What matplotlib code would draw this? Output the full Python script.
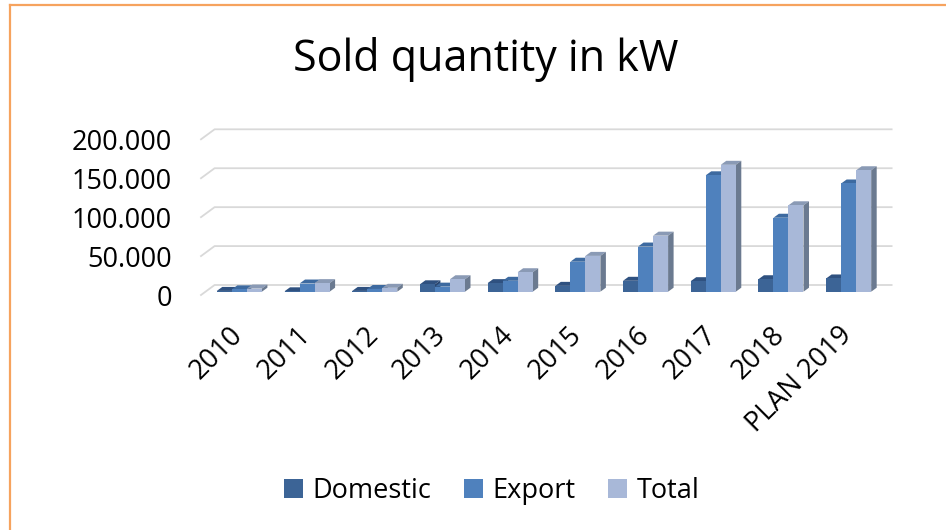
import matplotlib.pyplot as plt
from matplotlib.patches import Polygon, Patch
from matplotlib.lines import Line2D
from matplotlib.ticker import FuncFormatter

plt.rcParams['font.family'] = ['Open Sans', 'DejaVu Sans']

# data
years = ['2010', '2011', '2012', '2013', '2014', '2015', '2016', '2017', '2018', 'PLAN 2019']
domestic = [1000, 500, 1000, 9500, 11000, 7500, 14000, 13500, 16000, 17000]
export = [3000, 10500, 3500, 6500, 14000, 38500, 58000, 149500, 95000, 139000]
total = [4000, 11000, 5000, 16000, 25000, 46000, 72000, 163000, 111000, 156000]
series_names = ['Domestic', 'Export', 'Total']
yticks = [0, 50000, 100000, 150000, 200000]

# front, top, side colours per series
front_col = ['#3C6496', '#4F81BD', '#A8B8D8']
top_col = ['#2F5180', '#3D6AA0', '#8A9AB5']
side_col = ['#2A4670', '#375E8E', '#6B7A90']

fig = plt.figure(figsize=(9.46, 5.30), dpi=100)
W, H = 946, 530
ax = fig.add_axes([201 / W, (H - 295) / H, (878 - 201) / W, (295 - 139.3) / H])
ax.set_xlim(-0.5, len(years) - 0.5)
ax.set_ylim(0, 200000)
for s in ax.spines.values():
    s.set_visible(False)


def px(dx, dy):
    # pixel offset -> data offset
    inv = ax.transData.inverted()
    a = inv.transform((0, 0))
    b = inv.transform((dx, dy))
    return b[0] - a[0], b[1] - a[1]


# back wall gridlines with the slanted side-wall piece
bx, by = px(13.6, 10)
x_left, x_right = ax.get_xlim()
for v in yticks:
    ax.plot([x_left, x_left + bx, x_right + bx], [v, v + by, v + by],
            color='#D9D9D9', lw=1.3, clip_on=False, zorder=1)

# 3D-looking bars
ox, oy = px(4.5, 3.3)
ddx, ddy = px(5.5, 4)
w = 0.222
data = [domestic, export, total]
for j, vals in enumerate(data):
    xs = [i - w + j * w + ox for i in range(len(years))]
    bars = ax.bar(xs, vals, width=w, bottom=oy, color=front_col[j],
                  linewidth=0, clip_on=False)
    for i, b in enumerate(bars):
        z = 2 + i * 3 + j
        b.set_zorder(z + 0.5)
        x0 = b.get_x()
        x1 = x0 + b.get_width()
        y0 = b.get_y()
        y1 = y0 + b.get_height()
        ax.add_patch(Polygon([(x0, y1), (x1, y1), (x1 + ddx, y1 + ddy), (x0 + ddx, y1 + ddy)],
                             closed=True, facecolor=top_col[j], lw=0, zorder=z, clip_on=False))
        ax.add_patch(Polygon([(x1, y0), (x1 + ddx, y0 + ddy), (x1 + ddx, y1 + ddy), (x1, y1)],
                             closed=True, facecolor=side_col[j], lw=0, zorder=z, clip_on=False))

ax.set_yticks(yticks)
ax.yaxis.set_major_formatter(FuncFormatter(lambda v, p: f"{int(v):,}".replace(',', '.')))
ax.tick_params(axis='y', length=0, pad=21, labelsize=19.5)
lx, _ = px(4, 0)
ax.set_xticks([i + lx for i in range(len(years))])
ax.set_xticklabels(years, rotation=45, ha='right', va='center', rotation_mode='anchor')
ax.tick_params(axis='x', length=0, pad=26, labelsize=19.5)

fig.text(486 / W, 1 - 59 / H, 'Sold quantity in kW', ha='center', va='center', fontsize=31)

handles = [Patch(facecolor=c, edgecolor='none') for c in front_col]
fig.legend(handles, series_names, loc='center', bbox_to_anchor=(492 / W, 1 - 491 / H),
           ncol=3, frameon=False, fontsize=19.5, handlelength=0.7, handleheight=0.7,
           handletextpad=0.35, columnspacing=1.2)

# orange outline on top and left
fig.add_artist(Line2D([10 / W, 1], [1 - 5 / H, 1 - 5 / H], color='#F6A35E', lw=1.6))
fig.add_artist(Line2D([10 / W, 10 / W], [1 - 5 / H, 0], color='#F6A35E', lw=1.6))

fig.savefig('out.png', dpi=100)
